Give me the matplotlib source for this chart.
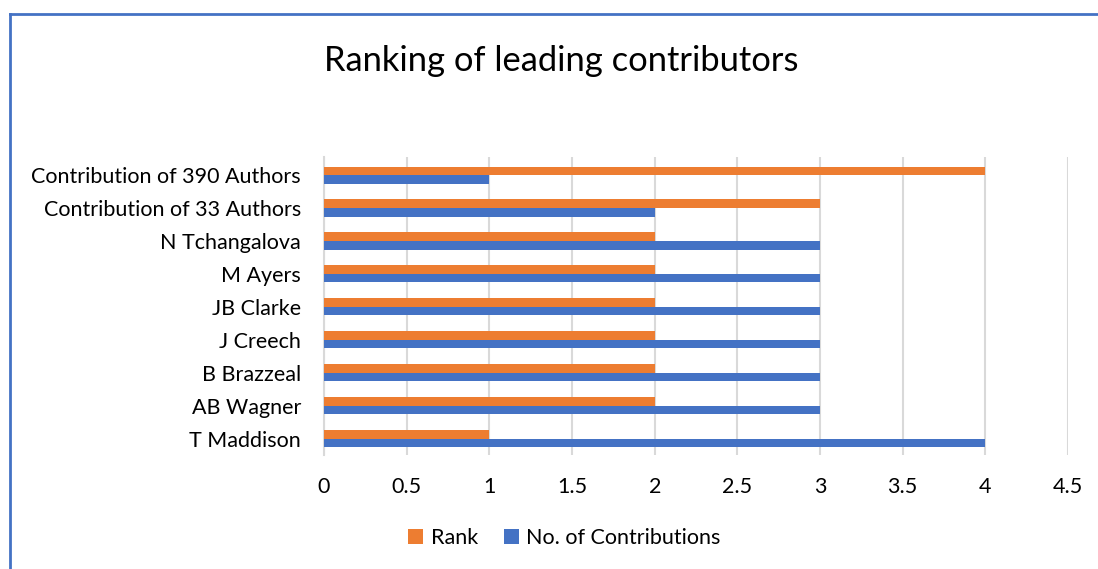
import matplotlib.pyplot as plt
import numpy as np
from matplotlib.lines import Line2D

plt.rcParams['font.family'] = ['Lato', 'DejaVu Sans']

names = ["T Maddison", "AB Wagner", "B Brazzeal", "J Creech", "JB Clarke",
         "M Ayers", "N Tchangalova", "Contribution of 33 Authors",
         "Contribution of 390 Authors"]
rank = [1, 2, 2, 2, 2, 2, 2, 3, 4]
contributions = [4, 3, 3, 3, 3, 3, 3, 2, 1]

orange = "#ED7D31"
blue = "#4472C4"

fig = plt.figure(figsize=(10.98, 5.69), dpi=100)
ax = fig.add_axes([0.2951, 0.2004, 0.6776, 0.5237])

y = np.arange(len(names))
h = 0.26
ax.barh(y + h / 2, rank, height=h, color=orange, label="Rank", zorder=3)
ax.barh(y - h / 2, contributions, height=h, color=blue,
        label="No. of Contributions", zorder=3)

ax.set_xlim(0, 4.5)
ax.set_ylim(-0.5, 8.55)
ax.set_xticks(np.arange(0, 4.51, 0.5))
ax.set_xticklabels(["0", "0.5", "1", "1.5", "2", "2.5", "3", "3.5", "4", "4.5"])
ax.set_yticks(y)
ax.set_yticklabels(names)
ax.tick_params(length=0, labelsize=15.5, colors="black")
ax.tick_params(axis="x", pad=16)
ax.tick_params(axis="y", pad=16.5)
ax.grid(axis="x", color="#d9d9d9", linewidth=1.5, zorder=0)
for s in ["top", "right", "bottom"]:
    ax.spines[s].set_visible(False)
ax.spines["left"].set_color("#d9d9d9")
ax.spines["left"].set_linewidth(1.5)

fig.text(0.511, 0.893, "Ranking of leading contributors", ha="center",
         va="center", fontsize=24.8)

handles, labels = ax.get_legend_handles_labels()
fig.legend(handles, labels, loc="center", bbox_to_anchor=(0.514, 0.054),
           ncol=2, frameon=False, fontsize=15.5, handlelength=0.7,
           handleheight=0.7, handletextpad=0.35, columnspacing=1.2)

# chart border (only top and left visible in the crop)
fig.add_artist(Line2D([0.0087, 0.0087], [0, 0.975], transform=fig.transFigure,
                      color="#4472C4", linewidth=2))
fig.add_artist(Line2D([0.0087, 1], [0.975, 0.975], transform=fig.transFigure,
                      color="#4472C4", linewidth=2))

fig.savefig("out.png", dpi=100)
